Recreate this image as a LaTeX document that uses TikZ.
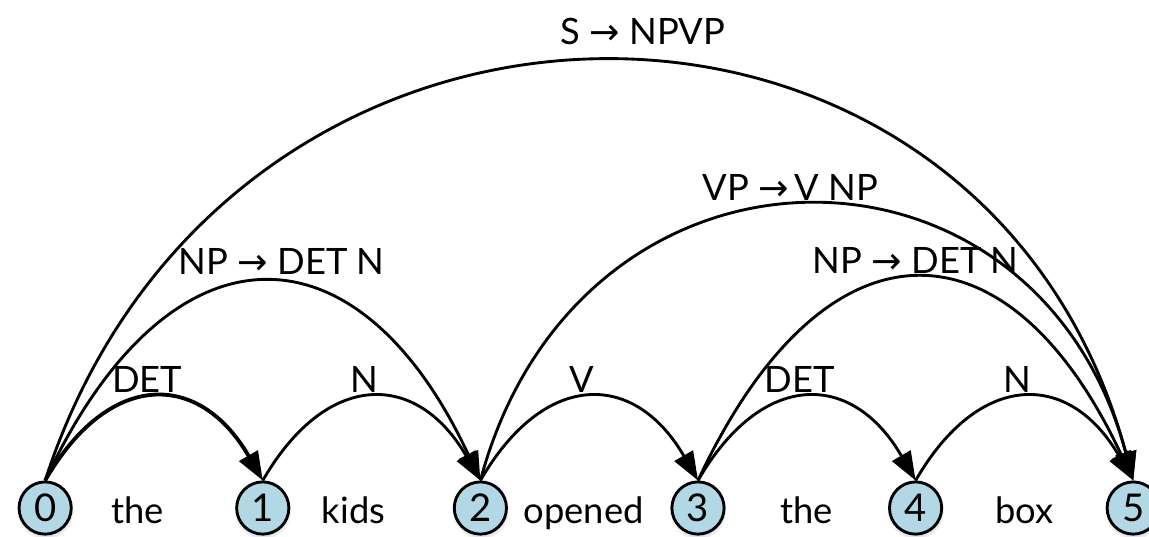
\documentclass[tikz,border=0pt]{standalone}
\usepackage{fontspec}
\setmainfont{Lato}
\newfontfamily\arrowfont{DejaVu Sans}
\usepackage{tikz}
\usetikzlibrary{arrows.meta,calc,positioning,shadows}
\definecolor{stateblue}{RGB}{178,216,230}
\newcommand{\rto}{{\arrowfont →}}

\begin{document}
\begin{tikzpicture}[scale=1,
    font=\fontsize{19}{21}\selectfont,
    state/.style={circle,draw,line width=1.5pt,fill=stateblue,minimum size=0.96cm,inner sep=0pt,
        font=\fontsize{20}{22}\selectfont,
        circular drop shadow={shadow xshift=0pt,shadow yshift=-1.5pt,opacity=0.25}},
    word/.style={anchor=base,inner sep=0pt},
    arc/.style={line width=1.5pt,-{Triangle[length=15pt,width=11pt]}},
    lab/.style={above,inner sep=2pt}]
    \useasboundingbox (0,0) rectangle (21.12,9.853);
    % chart states
    \node[state] (n0) at (0.83,0.515) {0};
    \node[state] (n1) at (4.83,0.515) {1};
    \node[state] (n2) at (8.83,0.515) {2};
    \node[state] (n3) at (12.83,0.515) {3};
    \node[state] (n4) at (16.83,0.515) {4};
    \node[state] (n5) at (20.83,0.515) {5};
    % words
    \node[word] (w1) at ($(n0)!0.5!(n1)+(-0.3,-0.28)$) {the};
    \node[word] (w2) at ($(n1)!0.5!(n2)+(-0.33,-0.28)$) {kids};
    \node[word] (w3) at ($(n2)!0.5!(n3)+(-0.1,-0.28)$) {opened};
    \node[word] (w4) at ($(n3)!0.5!(n4)+(0,-0.28)$) {the};
    \node[word] (w5) at ($(n4)!0.5!(n5)+(0,-0.28)$) {box};
    % edges
    \draw[arc,line width=2pt] (n0.north) to[out=60,in=120,looseness=1.5] node[lab,pos=0.47] {DET} (n1.north);
    \draw[arc] (n1.north) to[out=60,in=120,looseness=1.5] node[lab,pos=0.47] {N} (n2.north);
    \draw[arc] (n2.north) to[out=60,in=120,looseness=1.5] node[lab,pos=0.47] {V} (n3.north);
    \draw[arc] (n3.north) to[out=60,in=120,looseness=1.5] node[lab,pos=0.47] {DET} (n4.north);
    \draw[arc] (n4.north) to[out=60,in=120,looseness=1.5] node[lab,pos=0.47] {N} (n5.north);
    \draw[arc] (n0.north) to[out=65,in=115,looseness=1.715] node[lab,xshift=0.35cm,yshift=0.05cm] {NP \rto{} DET N} (n2.north);
    \draw[arc] (n3.north) to[out=65,in=115,looseness=1.75] node[lab] {NP \rto{} DET N} (n5.north);
    \draw[arc] (n2.north) to[out=75,in=105,looseness=1.49] node[lab,xshift=-0.3cm] {VP \rto\,V NP} (n5.north);
    \draw[arc] (n0.north) .. controls +(72:10.8) and +(105:10.6) .. node[lab,pos=0.53,yshift=0.25cm] {S \rto{} NPVP} (n5.north);
\end{tikzpicture}
\end{document}
